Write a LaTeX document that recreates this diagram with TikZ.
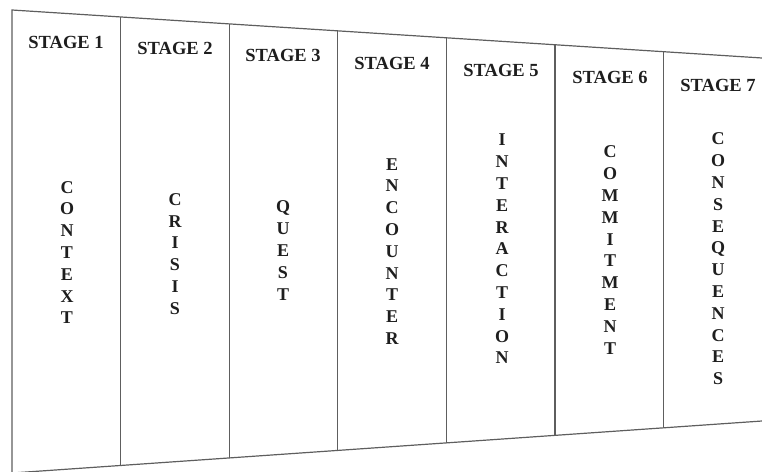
\documentclass[tikz,border=0pt]{standalone}
\usepackage{fontspec}
\setmainfont{Liberation Serif}
\usetikzlibrary{calc}
\definecolor{rule}{HTML}{5E5E5E}
\definecolor{ink}{HTML}{1E1E1E}

\begin{document}
\begin{tikzpicture}[x=1pt, y=-1pt,
  frame/.style={draw=rule, line width=1.2pt},
  stagehead/.style={font=\fontsize{18.5}{21}\selectfont\bfseries, text=ink, inner sep=0pt},
  stageword/.style={font=\fontsize{18}{21.8}\selectfont\bfseries, text=ink,
                    align=center, inner sep=0pt}
]
\useasboundingbox (0,0) rectangle (762,471);
% outline, cut off at the right
\coordinate (tl) at (12,10);
\coordinate (tr) at (762,58);
\coordinate (bl) at (12,473);
\coordinate (br) at (762,421);
\draw[frame] (tr) -- (tl) -- (bl) -- (br);
\foreach \k in {1,...,6}
  \draw[frame] ($(tl)!{0.1448*\k}!(tr)$) -- ($(bl)!{0.1448*\k}!(br)$);

% stage headings
\node[stagehead] (hd1) at (66,42)  {STAGE 1};
\node[stagehead] (hd2) at (175,48) {STAGE 2};
\node[stagehead] (hd3) at (283,55) {STAGE 3};
\node[stagehead] (hd4) at (392,63) {STAGE 4};
\node[stagehead] (hd5) at (501,70) {STAGE 5};
\node[stagehead] (hd6) at (610,77) {STAGE 6};
\node[stagehead] (hd7) at (718,85) {STAGE 7};

% words, one letter per line
\node[stageword] (wd1) at (67,252.5) {C\\O\\N\\T\\E\\X\\T};
\node[stageword] (wd2) at (175,254)  {C\\R\\I\\S\\I\\S};
\node[stageword] (wd3) at (283,250.5) {Q\\U\\E\\S\\T};
\node[stageword] (wd4) at (392,251.5) {E\\N\\C\\O\\U\\N\\T\\E\\R};
\node[stageword] (wd5) at (502,249)  {I\\N\\T\\E\\R\\A\\C\\T\\I\\O\\N};
\node[stageword] (wd6) at (610,250)  {C\\O\\M\\M\\I\\T\\M\\E\\N\\T};
\node[stageword] (wd7) at (718,259)  {C\\O\\N\\S\\E\\Q\\U\\E\\N\\C\\E\\S};
\end{tikzpicture}
\end{document}
